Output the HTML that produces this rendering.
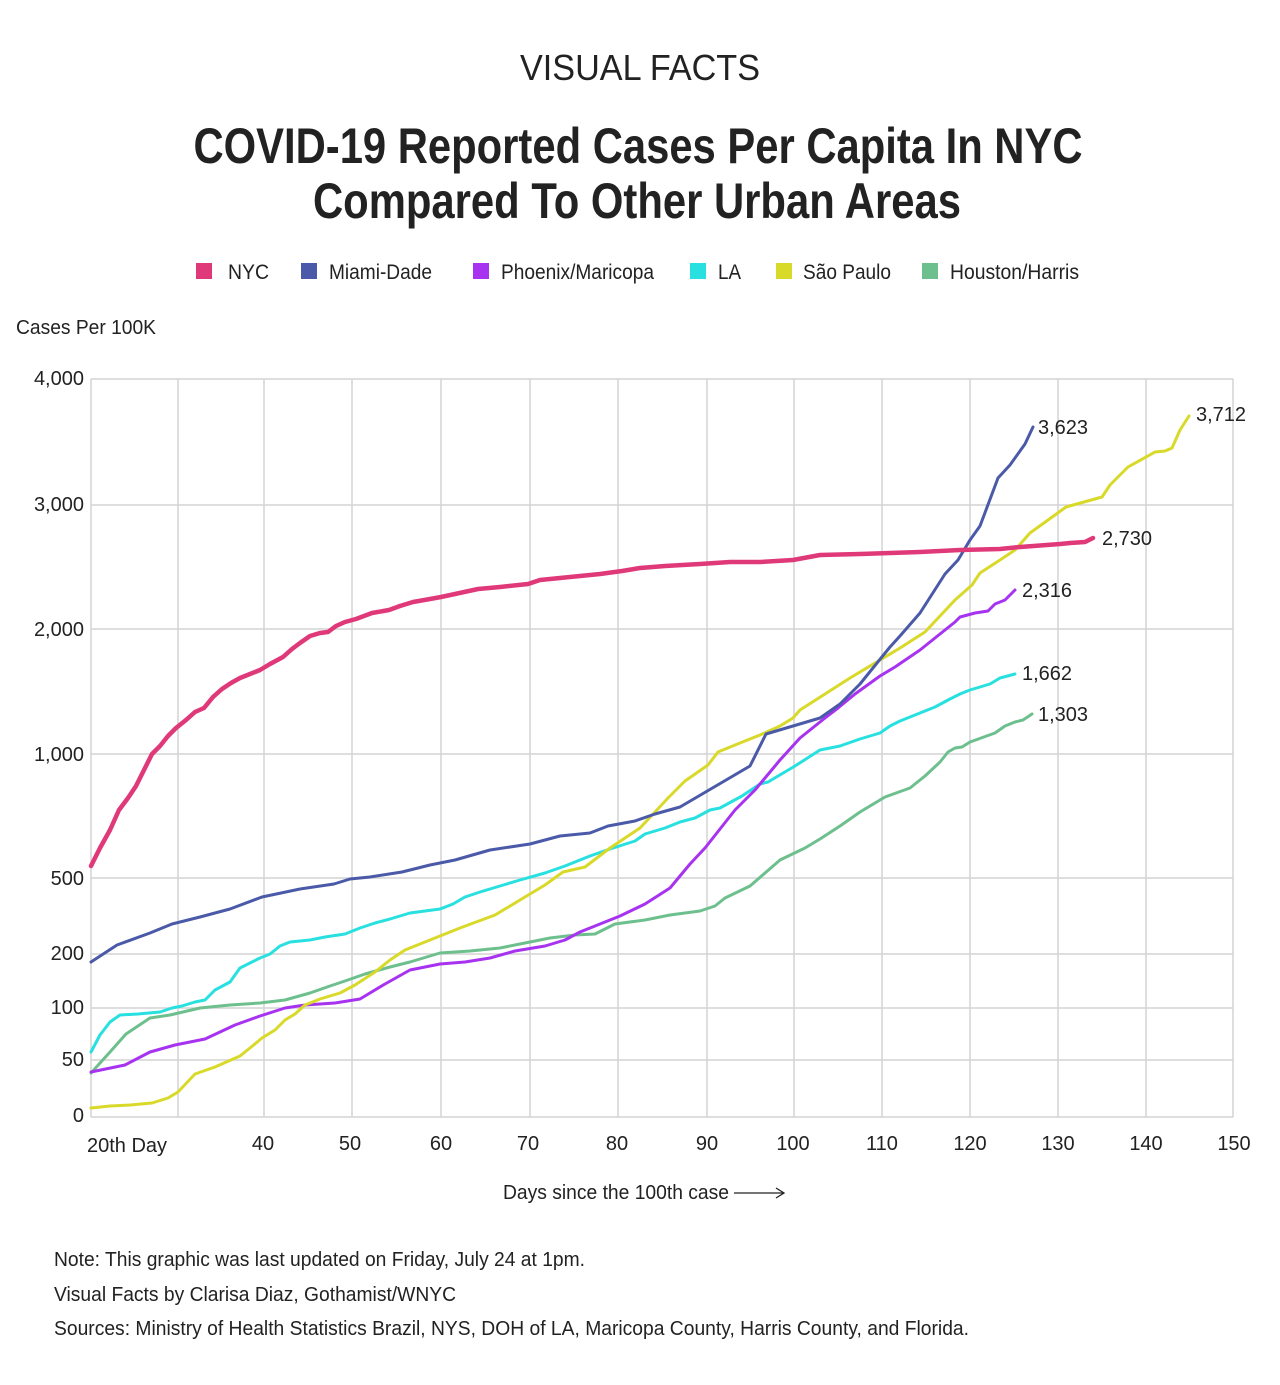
<!DOCTYPE html>
<html><head><meta charset="utf-8"><style>body{margin:0;background:#fff}svg{display:block}text{font-family:"Liberation Sans Narrow","Liberation Sans",sans-serif;fill:#222}</style></head><body>
<svg width="1280" height="1385" viewBox="0 0 1280 1385" xmlns="http://www.w3.org/2000/svg">
<text x="640" y="80" text-anchor="middle" font-size="36" textLength="240" lengthAdjust="spacingAndGlyphs" style="font-family:'Liberation Sans',sans-serif">VISUAL FACTS</text>
<text x="638" y="163" text-anchor="middle" font-size="50" font-weight="bold" textLength="889" lengthAdjust="spacingAndGlyphs">COVID-19 Reported Cases Per Capita In NYC</text>
<text x="637" y="218" text-anchor="middle" font-size="50" font-weight="bold" textLength="648" lengthAdjust="spacingAndGlyphs">Compared To Other Urban Areas</text>
<g font-size="21">
<rect x="196" y="263" width="16" height="16" fill="#e0397a"/><text x="228" y="279" textLength="41" lengthAdjust="spacingAndGlyphs">NYC</text>
<rect x="301" y="263" width="16" height="16" fill="#4a5aa8"/><text x="329" y="279" textLength="103" lengthAdjust="spacingAndGlyphs">Miami-Dade</text>
<rect x="473" y="263" width="16" height="16" fill="#a733f0"/><text x="501" y="279" textLength="153" lengthAdjust="spacingAndGlyphs">Phoenix/Maricopa</text>
<rect x="690" y="263" width="16" height="16" fill="#28e0e0"/><text x="718" y="279" textLength="23" lengthAdjust="spacingAndGlyphs">LA</text>
<rect x="776" y="263" width="16" height="16" fill="#d9d92a"/><text x="803" y="279" textLength="88" lengthAdjust="spacingAndGlyphs">São Paulo</text>
<rect x="922" y="263" width="16" height="16" fill="#6dc08d"/><text x="950" y="279" textLength="129" lengthAdjust="spacingAndGlyphs">Houston/Harris</text>
</g>
<text x="16" y="334" font-size="20" textLength="140" lengthAdjust="spacingAndGlyphs">Cases Per 100K</text>
<g stroke="#d4d4d4" stroke-width="1.5" fill="none">
<path d="M91 379H1233M91 505H1233M91 629H1233M91 754H1233M91 878H1233M91 954H1233M91 1008H1233M91 1060H1233M91 1117H1233"/>
<path d="M178 379V1117M264 379V1117M352 379V1117M441 379V1117M530 379V1117M618 379V1117M707 379V1117M794 379V1117M882 379V1117M970 379V1117M1058 379V1117M1146 379V1117M1233 379V1117M91 379V1117"/>
</g>
<g font-size="20" text-anchor="end">
<text x="84" y="385">4,000</text><text x="84" y="511">3,000</text><text x="84" y="636">2,000</text><text x="84" y="761">1,000</text><text x="84" y="885">500</text><text x="84" y="960">200</text><text x="84" y="1014">100</text><text x="84" y="1066">50</text><text x="84" y="1122">0</text>
</g>
<g font-size="20" text-anchor="middle">
<text x="127" y="1152">20th Day</text><text x="263" y="1150">40</text><text x="350" y="1150">50</text><text x="441" y="1150">60</text><text x="528" y="1150">70</text><text x="617" y="1150">80</text><text x="707" y="1150">90</text><text x="793" y="1150">100</text><text x="882" y="1150">110</text><text x="970" y="1150">120</text><text x="1058" y="1150">130</text><text x="1146" y="1150">140</text><text x="1234" y="1150">150</text>
</g>
<text x="503" y="1199" font-size="20" textLength="226" lengthAdjust="spacingAndGlyphs">Days since the 100th case</text>
<path d="M734 1193H783M776 1188L784 1193L776 1198" stroke="#222" stroke-width="1.3" fill="none"/>
<g fill="none" stroke-width="3" stroke-linejoin="round" stroke-linecap="round">
<polyline stroke="#6dc08d" points="91,1073 110,1052 126,1034 150,1018 170,1015 200,1008 230,1005 260,1003 285,1000 310,993 330,986 345,981 365,974 390,967 410,962 440,953 470,951 500,948 530,942 550,938 575,935 595,934 615,924 645,920 670,915 700,911 715,906 725,898 750,886 780,860 805,848 820,839 840,826 860,812 885,797 910,788 925,776 940,762 948,752 955,748 962,747 970,742 995,733 1005,726 1015,722 1023,720 1032,714"/>
<polyline stroke="#28e0e0" points="91,1052 100,1035 110,1022 120,1015 138,1014 160,1012 172,1008 182,1006 195,1002 205,1000 215,990 230,982 240,968 250,963 260,958 270,954 280,946 290,942 310,940 325,937 345,934 360,928 375,923 390,919 410,913 425,911 440,909 453,904 465,897 480,892 500,886 520,880 545,873 565,866 590,856 610,849 635,841 645,834 665,828 680,822 695,818 710,810 720,808 742,796 760,784 768,782 795,766 820,750 840,746 860,739 880,733 890,726 900,721 920,713 935,707 950,699 960,694 970,690 990,684 1000,678 1015,674"/>
<polyline stroke="#a733f0" points="91,1072 125,1065 150,1052 175,1045 205,1039 235,1025 260,1016 285,1008 305,1005 335,1003 360,999 385,984 410,970 440,964 465,962 490,958 515,951 545,946 565,940 580,932 600,924 620,916 645,904 670,888 690,864 705,848 735,810 755,790 780,760 800,738 825,718 838,708 855,694 880,676 895,667 920,650 935,638 940,634 955,622 960,617 975,613 988,611 995,604 1005,600 1015,590"/>
<polyline stroke="#d9d92a" points="91,1108 110,1106 130,1105 152,1103 168,1098 178,1092 195,1074 215,1067 240,1056 250,1048 262,1038 275,1030 285,1020 295,1014 305,1005 320,999 340,993 355,985 375,972 390,960 405,950 430,940 460,928 495,915 530,894 545,885 563,872 585,867 610,848 640,828 655,812 668,798 685,781 708,765 718,752 735,745 760,735 780,726 793,718 800,710 850,678 900,648 925,632 955,600 972,585 980,573 1000,560 1015,550 1030,533 1066,507 1102,497 1110,485 1128,467 1155,452 1165,451 1172,448 1180,430 1189,416"/>
<polyline stroke="#4a5aa8" points="91,962 117,945 150,933 172,924 200,917 230,909 262,897 300,889 334,884 350,879 370,877 402,872 430,865 455,860 490,850 530,844 560,836 590,833 608,826 635,821 655,814 680,807 750,766 766,734 820,718 840,704 860,684 890,647 900,636 920,613 945,574 958,560 970,540 980,526 998,478 1010,465 1025,444 1033,427"/>
<polyline stroke="#e0397a" stroke-width="4.5" points="91,866 100,848 110,830 119,810 128,798 136,786 144,770 152,754 160,746 168,736 176,728 186,720 195,712 204,708 213,697 222,689 231,683 240,678 250,674 260,670 270,664 283,657 292,649 300,643 310,636 320,633 328,632 336,626 345,622 356,619 364,616 372,613 389,610 400,606 413,602 430,599 441,597 455,594 478,589 500,587 528,584 540,580 560,578 580,576 600,574 622,571 640,568 665,566 700,564 730,562 760,562 793,560 820,555 860,554 890,553 920,552 960,550 1000,549 1020,547 1060,544 1070,543 1085,542 1093,538"/>
</g>
<g font-size="20">
<text x="1038" y="434">3,623</text><text x="1196" y="421">3,712</text><text x="1102" y="545">2,730</text><text x="1022" y="597">2,316</text><text x="1022" y="680">1,662</text><text x="1038" y="721">1,303</text>
</g>
<g font-size="20">
<text x="54" y="1266" textLength="531" lengthAdjust="spacingAndGlyphs">Note: This graphic was last updated on Friday, July 24 at 1pm.</text>
<text x="54" y="1301" textLength="402" lengthAdjust="spacingAndGlyphs">Visual Facts by Clarisa Diaz, Gothamist/WNYC</text>
<text x="54" y="1335" textLength="915" lengthAdjust="spacingAndGlyphs">Sources: Ministry of Health Statistics Brazil, NYS, DOH of LA, Maricopa County, Harris County, and Florida.</text>
</g>
</svg>
</body></html>
